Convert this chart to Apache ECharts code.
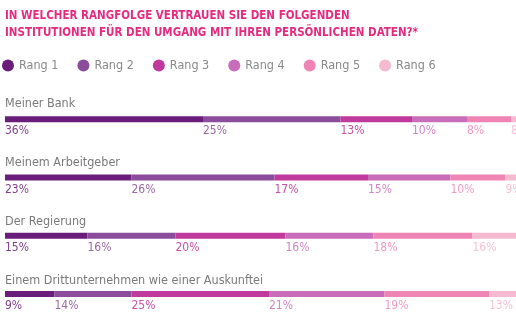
<!DOCTYPE html>
<html><head><meta charset="utf-8">
<script src="https://cdn.jsdelivr.net/npm/echarts@6/dist/echarts.min.js"></script>
<style>html,body{margin:0;padding:0;background:#fff;overflow:hidden}#c{width:560px;height:323px}</style>
</head><body><div id="c"></div>
<script>
const titleLines = ["IN WELCHER RANGFOLGE VERTRAUEN SIE DEN FOLGENDEN", "INSTITUTIONEN FÜR DEN UMGANG MIT IHREN PERSÖNLICHEN DATEN?*"];
const categories = ["Meiner Bank", "Meinem Arbeitgeber", "Der Regierung", "Einem Drittunternehmen wie einer Auskunftei"];
const seriesNames = ["Rang 1", "Rang 2", "Rang 3", "Rang 4", "Rang 5", "Rang 6"];
const rang1 = [36, 23, 15, 9];
const rang2 = [25, 26, 16, 14];
const rang3 = [13, 17, 20, 25];
const rang4 = [10, 15, 16, 21];
const rang5 = [8, 10, 18, 19];
const rang6 = [8, 9, 16, 13];
const values = [rang1, rang2, rang3, rang4, rang5, rang6];
const colors = ["#6a1d7b", "#8b4c9b", "#c0399c", "#c96cba", "#ee85b4", "#f5b9d0"];
const labelColors = ["#7e3f8c", "#9a68a6", "#c552a6", "#cf86c3", "#f09bc2", "#f6c2d6"];
const FONT = "'Liberation Sans Narrow','DejaVu Sans Condensed','Liberation Sans',sans-serif";

const chart = echarts.init(document.getElementById('c'), null, {renderer: 'canvas'});
const titles = [{
  text: titleLines.join('\n'), left: 5, top: 8, padding: 0,
  textStyle: {color: '#e62a7f', fontSize: 11.5, fontWeight: 'bold', fontFamily: FONT, lineHeight: 16.5}
}];
categories.forEach((c, i) => titles.push({
  text: c, left: 5, top: 97 + i * 59.2, padding: 0,
  textStyle: {color: '#7a7a7a', fontSize: 12.5, fontWeight: 'normal', fontFamily: FONT}
}));

chart.setOption({
  animation: false,
  title: titles,
  legend: {
    data: seriesNames, left: 2, top: 59, padding: 0, icon: 'circle', itemWidth: 12, itemHeight: 12,
    itemGap: 19, textStyle: {color: '#8a8a8a', fontSize: 12.5, fontFamily: FONT}
  },
  grid: {left: 5, top: 90, width: 550, height: 237, containLabel: false},
  xAxis: {type: 'value', min: 0, max: 100, show: false},
  yAxis: {type: 'category', data: categories, inverse: true, show: false},
  series: seriesNames.map((n, k) => ({
    name: n, type: 'bar', stack: 'all', barWidth: 6, data: values[k],
    itemStyle: {color: colors[k]},
    label: {show: true, position: [0, 9], formatter: '{c}%', color: labelColors[k],
      fontSize: 12, fontFamily: FONT, align: 'left', verticalAlign: 'top'}
  }))
});
</script></body></html>
